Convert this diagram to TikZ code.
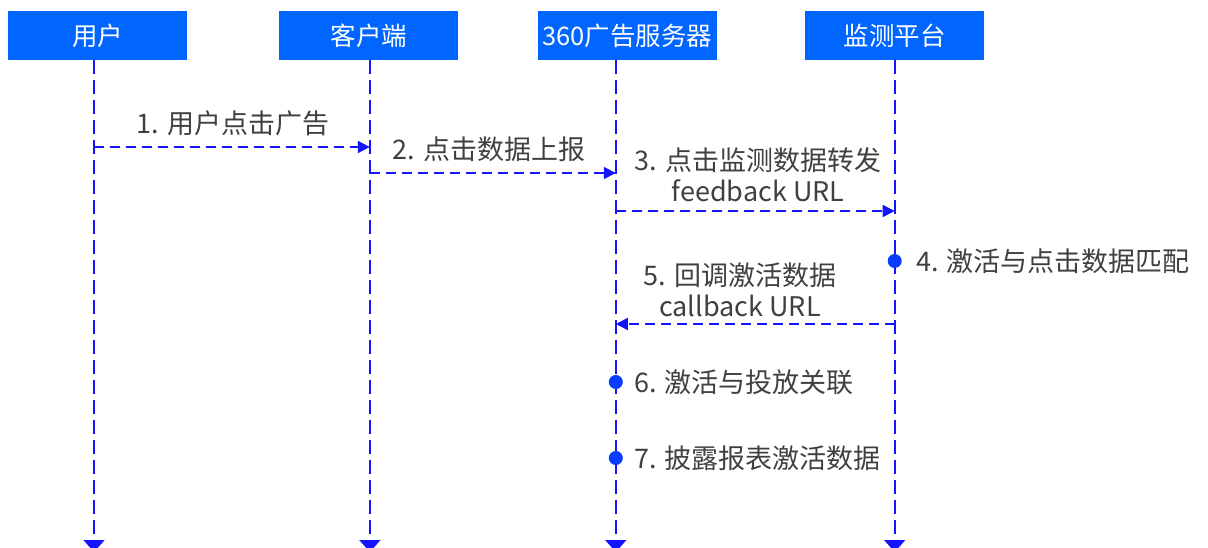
\documentclass[tikz,border=0pt]{standalone}
\usepackage{fontspec}
\setmainfont{Noto Sans CJK SC}
\usepackage{xcolor}
\usetikzlibrary{positioning,arrows.meta}

\definecolor{headblue}{RGB}{0,102,255}
\definecolor{lineblue}{RGB}{20,20,255}
\definecolor{dotblue}{RGB}{10,60,255}
\definecolor{textgray}{RGB}{64,64,64}

\begin{document}
\begin{tikzpicture}[x=1pt,y=-1pt,node distance=88pt]
\tikzset{>={Triangle[length=12pt,width=12pt]}}

\tikzstyle{head} = [rectangle, fill=headblue, text=white, inner sep=0pt,
                    minimum width=179pt, minimum height=49pt,
                    font=\fontsize{25.5pt}{30pt}\selectfont]
\tikzstyle{life} = [draw=lineblue, line width=1.6pt,
                    dash pattern=on 14pt off 6pt,
                    -{Triangle[length=12pt,width=21pt]}]
\tikzstyle{msg}  = [draw=lineblue, line width=1.6pt,
                    dash pattern=on 10pt off 6pt, ->]
\tikzstyle{lbl}  = [text=textgray, inner sep=0pt, align=center,
                    font=\fontsize{27pt}{31pt}\selectfont]
\tikzstyle{dot}  = [circle, fill=dotblue, inner sep=0pt, minimum size=14pt]

\useasboundingbox (0,0) rectangle (1208,548);

\node[head]                 (U) at (97.5,35.5) {用户};
\node[head,right=92pt of U] (C) {客户端};
\node[head,right=79pt of C] (S) {360广告服务器};
\node[head,right=of S]      (M) {监测平台};

% lifelines
\coordinate (Ut) at ([xshift=-3.5pt]U.south);
\coordinate (Ct) at ([xshift=1pt]C.south);
\coordinate (St) at ([xshift=-11.5pt]S.south);
\coordinate (Mt) at (M.south);
\coordinate (end) at (0,552);

\draw[life] (Ut) -- (Ut |- end);
\draw[life] (Ct) -- (Ct |- end);
\draw[life] (St) -- (St |- end);
\draw[life] (Mt) -- (Mt |- end);

% message rows
\coordinate (r1) at (0,147);
\coordinate (r2) at (0,173);
\coordinate (r3) at (0,211);
\coordinate (r4) at (0,261);
\coordinate (r5) at (0,324);
\coordinate (r6) at (0,382);
\coordinate (r7) at (0,458);

\draw[msg] (Ut |- r1) -- (Ct |- r1);
\draw[msg] (Ct |- r2) -- (St |- r2);
\draw[msg] (St |- r3) -- (Mt |- r3);
\draw[msg] (Mt |- r5) -- (St |- r5);

\node[lbl] (l1) at (233,123) {1. 用户点击广告};
\node[lbl] (l2) at (489,149) {2. 点击数据上报};
\node[lbl] (l3) at (758,175) {3. 点击监测数据转发\\feedback URL};
\node[lbl] (l5) at (740,290) {5. 回调激活数据\\callback URL};

\node[dot] (d4) at (Mt |- r4) {};
\node[dot] (d6) at (St |- r6) {};
\node[dot] (d7) at (St |- r7) {};

\node[lbl,right=14pt of d4] (l4) {4. 激活与点击数据匹配};
\node[lbl,right=11pt of d6] (l6) {6. 激活与投放关联};
\node[lbl,right=11pt of d7] (l7) {7. 披露报表激活数据};

\end{tikzpicture}
\end{document}
